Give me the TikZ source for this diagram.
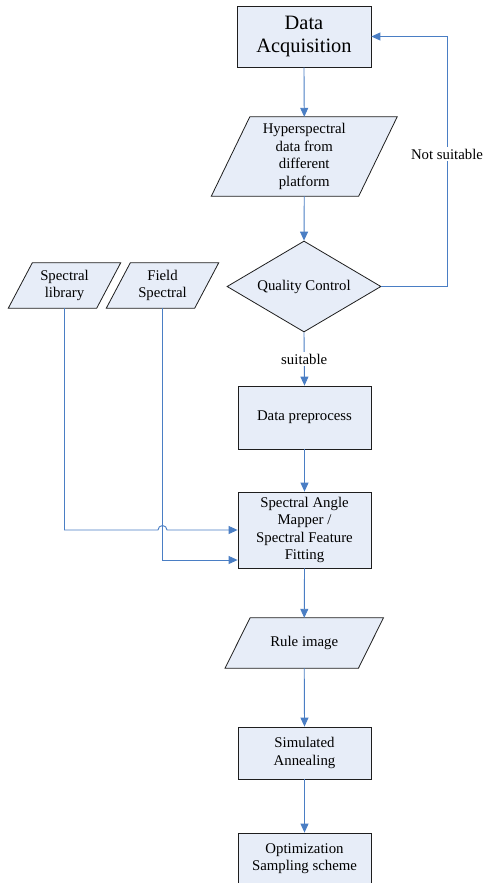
\documentclass[tikz,border=0pt]{standalone}
\usepackage{fontspec}
\setmainfont{Liberation Serif}
\usetikzlibrary{shapes.geometric,arrows.meta,backgrounds,calc}
\definecolor{boxfill}{RGB}{231,237,248}
\definecolor{linkblue}{RGB}{74,126,196}
\definecolor{edgegray}{RGB}{30,30,30}
\begin{document}
\begin{tikzpicture}[x=1pt,y=-1pt,
  txt/.style={font=\fontsize{14.8}{17.4}\selectfont, align=center, inner sep=0pt},
  box/.style={txt, draw=edgegray, fill=boxfill, line width=0.8pt, minimum width=133pt},
  paratxt/.style={txt, minimum height=#1},
  parashape/.style={draw=edgegray, fill=boxfill, line width=0.8pt},
  dia/.style={txt, shape=diamond, aspect=1.7, draw=edgegray, fill=boxfill, line width=0.8pt, minimum width=154pt, minimum height=91pt},
  link/.style={draw=linkblue, line width=0.9pt},
  arr/.style={link, -{Triangle[length=9pt,width=8pt]}},
  lab/.style={txt, fill=white, inner sep=1.5pt}
]
\useasboundingbox (0,0) rectangle (483,883);
\clip (0,0) rectangle (483,883);

% rectangles
\node[box, font=\fontsize{20.4}{23}\selectfont, minimum width=134pt, minimum height=61pt] (acq) at (304,36.5) {Data\\Acquisition};
\node[box, minimum height=63pt] (pre) at (304.5,417.5) {Data preprocess};
\node[box, minimum height=76pt] (sam) at (304.5,530) {Spectral Angle\\Mapper /\\Spectral Feature\\Fitting};
\node[box, minimum height=52pt] (sa) at (304.5,753) {Simulated\\Annealing};
\node[box, minimum height=56pt, text depth=8pt] (opt) at (304.5,861) {Optimization\\Sampling scheme};

% diamond
\node[dia] (qc) at (304,286.5) {Quality Control};

% parallelogram texts
\node[paratxt=79pt, minimum width=147pt] (hyp) at (304.25,156.5) {Hyperspectral\\data from\\different\\platform};
\node[paratxt=45pt, minimum width=88pt] (lib) at (64.5,285.5) {Spectral\\library};
\node[paratxt=45pt, minimum width=88pt] (fld) at (162.5,285.5) {Field\\Spectral};
\node[paratxt=50pt, minimum width=133pt] (rule) at (304.25,643) {Rule image};

% parallelogram outlines behind texts
\begin{scope}[on background layer]
\fill[white] (0,0) rectangle (483,883);
\draw[parashape] ([xshift=19.25pt]hyp.north west) -- ([xshift=19.25pt]hyp.north east)
  -- ([xshift=-19.25pt]hyp.south east) -- ([xshift=-19.25pt]hyp.south west) -- cycle;
\draw[parashape] ([xshift=12pt]lib.north west) -- ([xshift=12pt]lib.north east)
  -- ([xshift=-12pt]lib.south east) -- ([xshift=-12pt]lib.south west) -- cycle;
\draw[parashape] ([xshift=12pt]fld.north west) -- ([xshift=12pt]fld.north east)
  -- ([xshift=-12pt]fld.south east) -- ([xshift=-12pt]fld.south west) -- cycle;
\draw[parashape] ([xshift=12.5pt]rule.north west) -- ([xshift=12.5pt]rule.north east)
  -- ([xshift=-12.5pt]rule.south east) -- ([xshift=-12.5pt]rule.south west) -- cycle;
\end{scope}

% main flow
\draw[arr] (acq.south) -- (hyp.north);
\draw[arr] (hyp.south) -- (qc.north);
\draw[arr] (qc.south) -- node[lab, pos=0.5] {suitable} (pre.north);
\draw[arr] (pre.south) -- (sam.north);
\draw[arr] (sam.south) -- (rule.north);
\draw[arr] (rule.south) -- (sa.north);
\draw[arr] (sa.south) -- (opt.north);

% feedback loop
\coordinate (fbb) at (447,286.5);
\coordinate (fbt) at (447,36.5);
\draw[arr] (qc.east) -- (fbb) -- node[lab, pos=0.53] {Not suitable} (fbt) -- (acq.east);

% library inputs
\coordinate (libc) at (lib.south |- sam.west);
\coordinate (hopa) at ($(fld.south |- sam.west)+(-4.5,0)$);
\draw[arr] (lib.south) -- (libc) -- (hopa) arc[start angle=180, end angle=0, radius=4.5pt] -- (sam.west);
\draw[arr] (fld.south) |- ([yshift=-30pt]sam.west);
\end{tikzpicture}
\end{document}
